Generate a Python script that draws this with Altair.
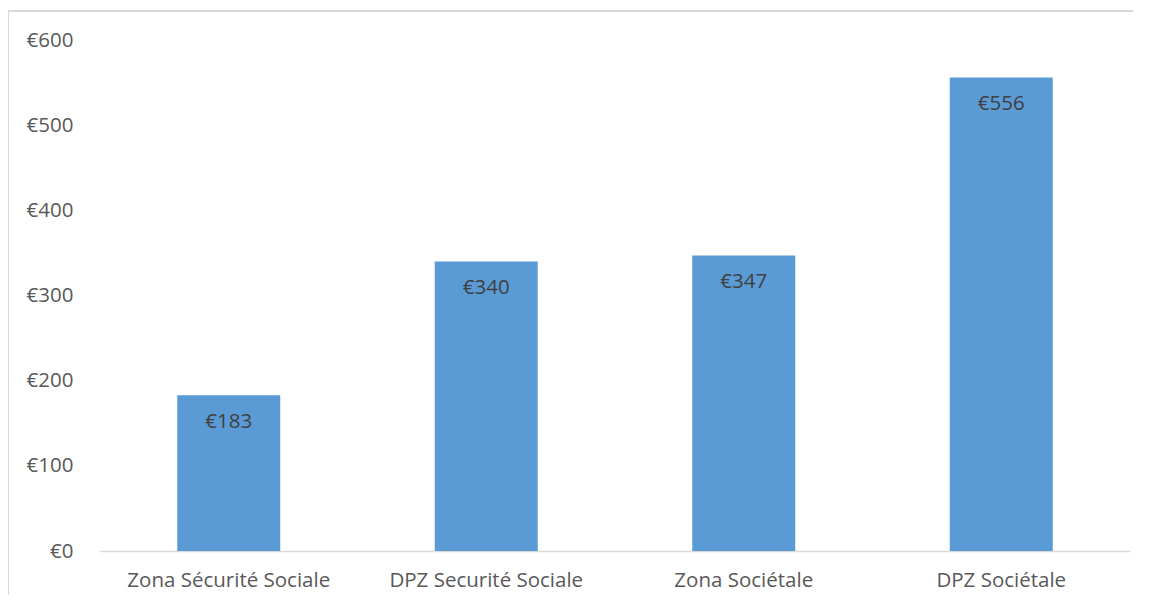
import altair as alt
import pandas as pd

categories = ["Zona Sécurité Sociale", "DPZ Securité Sociale", "Zona Sociétale", "DPZ Sociétale"]
values = [183, 340, 347, 556]
labels = ["€183", "€340", "€347", "€556"]

df = pd.DataFrame({"cat": categories, "val": values, "lab": labels})

FONT = "Open Sans"
FS = 20.5
W, H = 1030, 511

x = alt.X("cat:N", sort=categories, title=None,
          scale=alt.Scale(paddingInner=0.6, paddingOuter=0.3),
          axis=alt.Axis(labelAngle=0, ticks=False, domainColor="#D9D9D9", domainWidth=1.3,
                        labelColor="#595959", labelFont=FONT, labelFontSize=FS, labelPadding=19,
                        labelLimit=0))
y = alt.Y("val:Q", title=None,
          scale=alt.Scale(domain=[0, 600]),
          axis=alt.Axis(values=[0, 100, 200, 300, 400, 500, 600], labelExpr="'€' + datum.value",
                        grid=False, domain=False, ticks=False, labelPadding=27,
                        labelColor="#595959", labelFont=FONT, labelFontSize=FS))

bars = alt.Chart(df).mark_bar(color="#5B9BD5").encode(x=x, y=y)
text = alt.Chart(df).mark_text(dy=27, baseline="middle", font=FONT, fontSize=FS, color="#404040").encode(
    x=alt.X("cat:N", sort=categories), y="val:Q", text="lab:N")

border_top = alt.Chart(df).mark_rule(color="#D9D9D9", strokeWidth=2).encode(
    x=alt.value(-92), x2=alt.value(1040), y=alt.value(-29))
border_left = alt.Chart(df).mark_rule(color="#D9D9D9", strokeWidth=2).encode(
    x=alt.value(-92), y=alt.value(-29), y2=alt.value(560))

chart = alt.layer(bars, text, border_top, border_left).properties(
    width=W, height=H,
    autosize=alt.AutoSizeParams(type="none"),
    padding={"left": 92, "top": 32, "right": 3, "bottom": 44},
).configure_view(stroke=None)

chart.save("out.html", embed_options={"renderer": "svg", "actions": False})
